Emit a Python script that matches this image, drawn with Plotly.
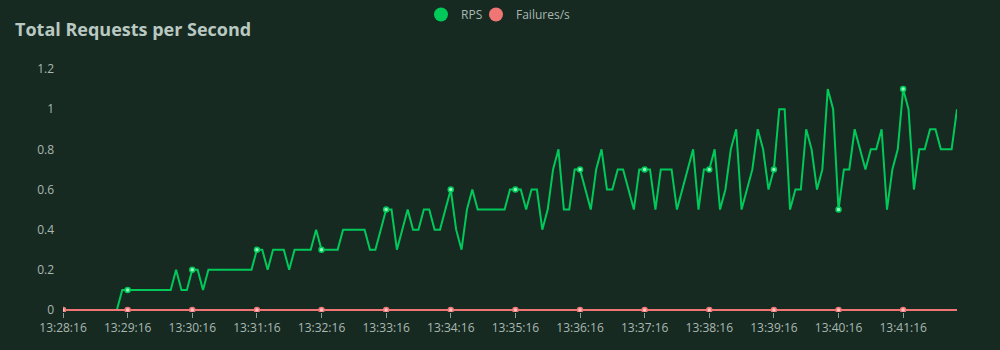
import pandas as pd
import plotly.graph_objects as go

# ---- data ----
start_time = "2024-01-01 13:28:16"
n_points = 167
time_labels = list(pd.date_range(start_time, periods=n_points, freq="5s").strftime("%H:%M:%S"))

rps = [
    0, 0, 0, 0, 0, 0, 0, 0, 0, 0, 0, 0.1,
    0.1, 0.1, 0.1, 0.1, 0.1, 0.1, 0.1, 0.1, 0.1, 0.2, 0.1, 0.1,
    0.2, 0.2, 0.1, 0.2, 0.2, 0.2, 0.2, 0.2, 0.2, 0.2, 0.2, 0.2,
    0.3, 0.3, 0.2, 0.3, 0.3, 0.3, 0.2, 0.3, 0.3, 0.3, 0.3, 0.4,
    0.3, 0.3, 0.3, 0.3, 0.4, 0.4, 0.4, 0.4, 0.4, 0.3, 0.3, 0.4,
    0.5, 0.5, 0.3, 0.4, 0.5, 0.4, 0.4, 0.5, 0.5, 0.4, 0.4, 0.5,
    0.6, 0.4, 0.3, 0.5, 0.6, 0.5, 0.5, 0.5, 0.5, 0.5, 0.5, 0.6,
    0.6, 0.6, 0.5, 0.6, 0.6, 0.4, 0.5, 0.7, 0.8, 0.5, 0.5, 0.7,
    0.7, 0.6, 0.5, 0.7, 0.8, 0.6, 0.6, 0.7, 0.7, 0.6, 0.5, 0.7,
    0.7, 0.7, 0.5, 0.7, 0.7, 0.7, 0.5, 0.6, 0.7, 0.8, 0.5, 0.7,
    0.7, 0.8, 0.5, 0.6, 0.8, 0.9, 0.5, 0.6, 0.7, 0.9, 0.8, 0.6,
    0.7, 1.0, 1.0, 0.5, 0.6, 0.6, 0.9, 0.8, 0.6, 0.7, 1.1, 1.0,
    0.5, 0.7, 0.7, 0.9, 0.8, 0.7, 0.8, 0.8, 0.9, 0.5, 0.7, 0.8,
    1.1, 1.0, 0.6, 0.8, 0.8, 0.9, 0.9, 0.8, 0.8, 0.8, 1.0,
]
failures = [0] * n_points

label_step = 12
tick_labels = time_labels[::label_step]

# ---- style ----
BG = "#162a22"
GREEN = "#00c95a"
RED = "#f07575"
TEXT = "#aab8b1"
FONT = "Open Sans"

fig = go.Figure()

fig.add_trace(go.Scatter(
    x=time_labels, y=rps, mode="lines", name="RPS", showlegend=False,
    line=dict(color=GREEN, width=2), hoverinfo="skip",
))
fig.add_trace(go.Scatter(
    x=time_labels, y=failures, mode="lines", name="Failures/s", showlegend=False,
    line=dict(color=RED, width=2), hoverinfo="skip",
))
fig.add_trace(go.Scatter(
    x=time_labels[::label_step], y=rps[::label_step], mode="markers", showlegend=False,
    marker=dict(color="#8ff5b8", size=5, line=dict(color=GREEN, width=1.5)),
))
fig.add_trace(go.Scatter(
    x=time_labels[::label_step], y=failures[::label_step], mode="markers", showlegend=False,
    marker=dict(color="#ffc2c2", size=5, line=dict(color=RED, width=1.5)),
))
# legend entries (two legends so their spacing can be set)
fig.add_trace(go.Scatter(x=[None], y=[None], mode="markers", name="RPS", legend="legend",
                         marker=dict(color=GREEN, size=14)))
fig.add_trace(go.Scatter(x=[None], y=[None], mode="markers", name="Failures/s", legend="legend2",
                         marker=dict(color=RED, size=14)))

legend_common = dict(orientation="h", xanchor="left", xref="container",
                     y=1.0, yanchor="top", yref="container",
                     font=dict(size=12, color=TEXT), bgcolor="rgba(0,0,0,0)",
                     itemsizing="trace")

fig.update_layout(
    width=1000, height=350,
    paper_bgcolor=BG, plot_bgcolor=BG,
    margin=dict(l=63, r=43, t=69, b=38),
    font=dict(family=FONT, color=TEXT, size=12),
    title=dict(text="<b>Total Requests per Second</b>", x=0.015, xanchor="left",
               xref="container", y=1 - 30 / 350, yref="container", yanchor="middle",
               font=dict(size=18, color="#b9c8c0", family=FONT)),
    legend=dict(x=0.421, **legend_common),
    legend2=dict(x=0.476, **legend_common),
    showlegend=True,
    xaxis=dict(
        type="category", range=[0, n_points - 1],
        tickmode="array", tickvals=tick_labels, ticktext=tick_labels,
        showgrid=False, zeroline=False,
        showline=False,
        ticks="outside", ticklen=5, tickcolor="#8c9a93",
        tickfont=dict(size=12, color=TEXT),
        layer="below traces",
    ),
    yaxis=dict(
        range=[-0.01, 1.2], tickvals=[0, 0.2, 0.4, 0.6, 0.8, 1.0, 1.2],
        ticktext=["0", "0.2", "0.4", "0.6", "0.8", "1", "1.2"],
        showgrid=False, zeroline=False, showline=False,
        ticks="", ticklabelstandoff=8,
        tickfont=dict(size=12, color=TEXT),
    ),
)

fig.write_html("out.html")
